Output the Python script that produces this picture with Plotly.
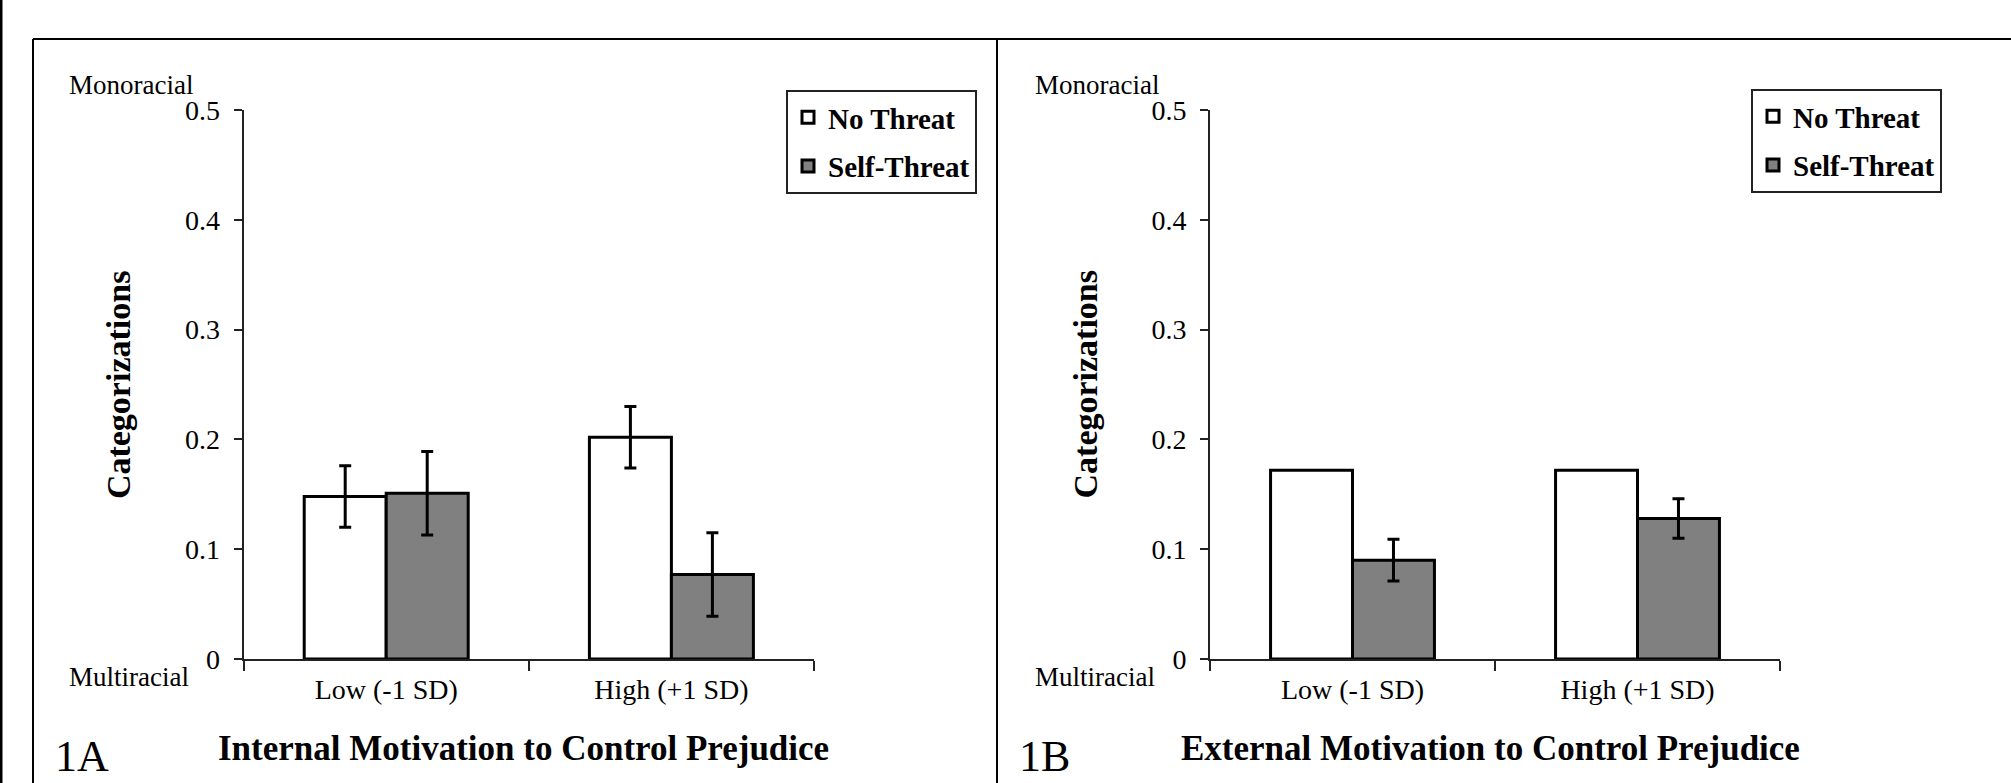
import plotly.graph_objects as go

W, H = 2011, 783

categories = ["Low (-1 SD)", "High (+1 SD)"]
series_names = ["No Threat", "Self-Threat"]

# Panel 1A: Internal Motivation
a_no_threat = [0.148, 0.202]
a_no_threat_err = [0.028, 0.028]
a_self_threat = [0.151, 0.077]
a_self_threat_err = [0.038, 0.038]

# Panel 1B: External Motivation
b_no_threat = [0.172, 0.172]
b_self_threat = [0.090, 0.128]
b_self_threat_err = [0.019, 0.018]

y_ticks = [0, 0.1, 0.2, 0.3, 0.4, 0.5]
panel_labels = ["1A", "1B"]
x_titles = ["Internal Motivation to Control Prejudice",
            "External Motivation to Control Prejudice"]
y_title = "Categorizations"
top_label = "Monoracial"
bottom_label = "Multiracial"

SERIF = "Liberation Serif, Times New Roman, serif"
fills = ["#ffffff", "#808080"]


def px(x):
    return x / W


def py(y):
    return 1 - y / H


fig = go.Figure()

panels = [
    dict(xa="x", ya="y", legend="legend",
         data=[(a_no_threat, a_no_threat_err), (a_self_threat, a_self_threat_err)]),
    dict(xa="x2", ya="y2", legend="legend2",
         data=[(b_no_threat, None), (b_self_threat, b_self_threat_err)]),
]

for p in panels:
    for i, (vals, errs) in enumerate(p["data"]):
        err = dict(type="data", array=errs, visible=True, color="black",
                   thickness=3, width=6) if errs is not None else dict(visible=False)
        fig.add_trace(go.Bar(
            x=categories, y=vals, name=series_names[i],
            marker=dict(color=fills[i], line=dict(color="black", width=3)),
            error_y=err, xaxis=p["xa"], yaxis=p["ya"], legend=p["legend"],
            legendgroup=p["legend"] + str(i),
        ))

plot_top, plot_bot = 110, 659
x_domains = [(243.6, 814), (1210, 1780)]

axis_common = dict(showline=True, linecolor="#222", linewidth=2, showgrid=False,
                   zeroline=False, ticks="outside", tickcolor="#222", tickwidth=2,
                   automargin=False,
                   tickfont=dict(family=SERIF, size=28, color="black"))

layout = dict(
    template="none",
    width=W, height=H, margin=dict(l=0, r=0, t=0, b=0, pad=0, autoexpand=False),
    paper_bgcolor="white", plot_bgcolor="white",
    barmode="group", bargap=0.425, bargroupgap=0,
    showlegend=True,
)
for k, (x0, x1) in enumerate(x_domains):
    sfx = "" if k == 0 else str(k + 1)
    layout["xaxis" + sfx] = dict(axis_common, domain=[px(x0), px(x1)],
                                 anchor="y" + sfx, tickson="boundaries", ticklen=10,
                                 ticklabelstandoff=4, fixedrange=True)
    layout["yaxis" + sfx] = dict(axis_common, domain=[py(plot_bot), py(plot_top)],
                                 anchor="x" + sfx, range=[0, 0.5], tickvals=y_ticks,
                                 ticklen=8, ticklabelstandoff=8, fixedrange=True)

legend_common = dict(bgcolor="white", bordercolor="#222", borderwidth=2,
                     font=dict(family=SERIF, size=29, color="black", weight="bold"),
                     xanchor="left", yanchor="top", tracegroupgap=8,
                     itemwidth=30)
layout["legend"] = dict(legend_common, x=px(786), y=py(90))
layout["legend2"] = dict(legend_common, x=px(1751), y=py(89))
fig.update_layout(**layout)

annotations = []
shapes = []
for k, (x0, x1) in enumerate(x_domains):
    annotations.append(dict(text=top_label, x=px(x0 - 177), y=py(85), xref="paper", yref="paper",
                            xanchor="left", yanchor="middle", showarrow=False,
                            font=dict(family=SERIF, size=27, color="black")))
    annotations.append(dict(text=bottom_label, x=px(x0 - 177), y=py(677), xref="paper", yref="paper",
                            xanchor="left", yanchor="middle", showarrow=False,
                            font=dict(family=SERIF, size=27, color="black")))
    annotations.append(dict(text=y_title, x=px(x0 - 125), y=py((plot_top + plot_bot) / 2),
                            xref="paper", yref="paper", textangle=-90,
                            xanchor="center", yanchor="middle", showarrow=False,
                            font=dict(family=SERIF, size=34, color="black", weight="bold")))
    annotations.append(dict(text=x_titles[k], x=px((x0 + x1) / 2 - 5), y=py(748),
                            xref="paper", yref="paper", xanchor="center", yanchor="middle",
                            showarrow=False,
                            font=dict(family=SERIF, size=35, color="black", weight="bold")))
    panel_left = 33 if k == 0 else 997
    annotations.append(dict(text=panel_labels[k], x=px(panel_left + 20), y=py(783),
                            xref="paper", yref="paper", xanchor="left", yanchor="bottom",
                            showarrow=False,
                            font=dict(family=SERIF, size=44, color="black")))

line = dict(color="black", width=2)
shapes.append(dict(type="line", xref="paper", yref="paper", x0=px(1), x1=px(1), y0=py(0), y1=py(790),
                   line=dict(color="black", width=3)))
shapes.append(dict(type="line", xref="paper", yref="paper", x0=px(33), x1=px(2011), y0=py(39), y1=py(39), line=line))
shapes.append(dict(type="line", xref="paper", yref="paper", x0=px(33), x1=px(33), y0=py(39), y1=py(790), line=line))
shapes.append(dict(type="line", xref="paper", yref="paper", x0=px(997), x1=px(997), y0=py(39), y1=py(790), line=line))

fig.update_layout(annotations=annotations, shapes=shapes)

fig.write_html("out.html", config={"displayModeBar": False},
               post_script="document.documentElement.style.margin='0';document.body.style.margin='0';"
                           "document.documentElement.style.overflow='hidden';document.body.style.overflow='hidden';")
